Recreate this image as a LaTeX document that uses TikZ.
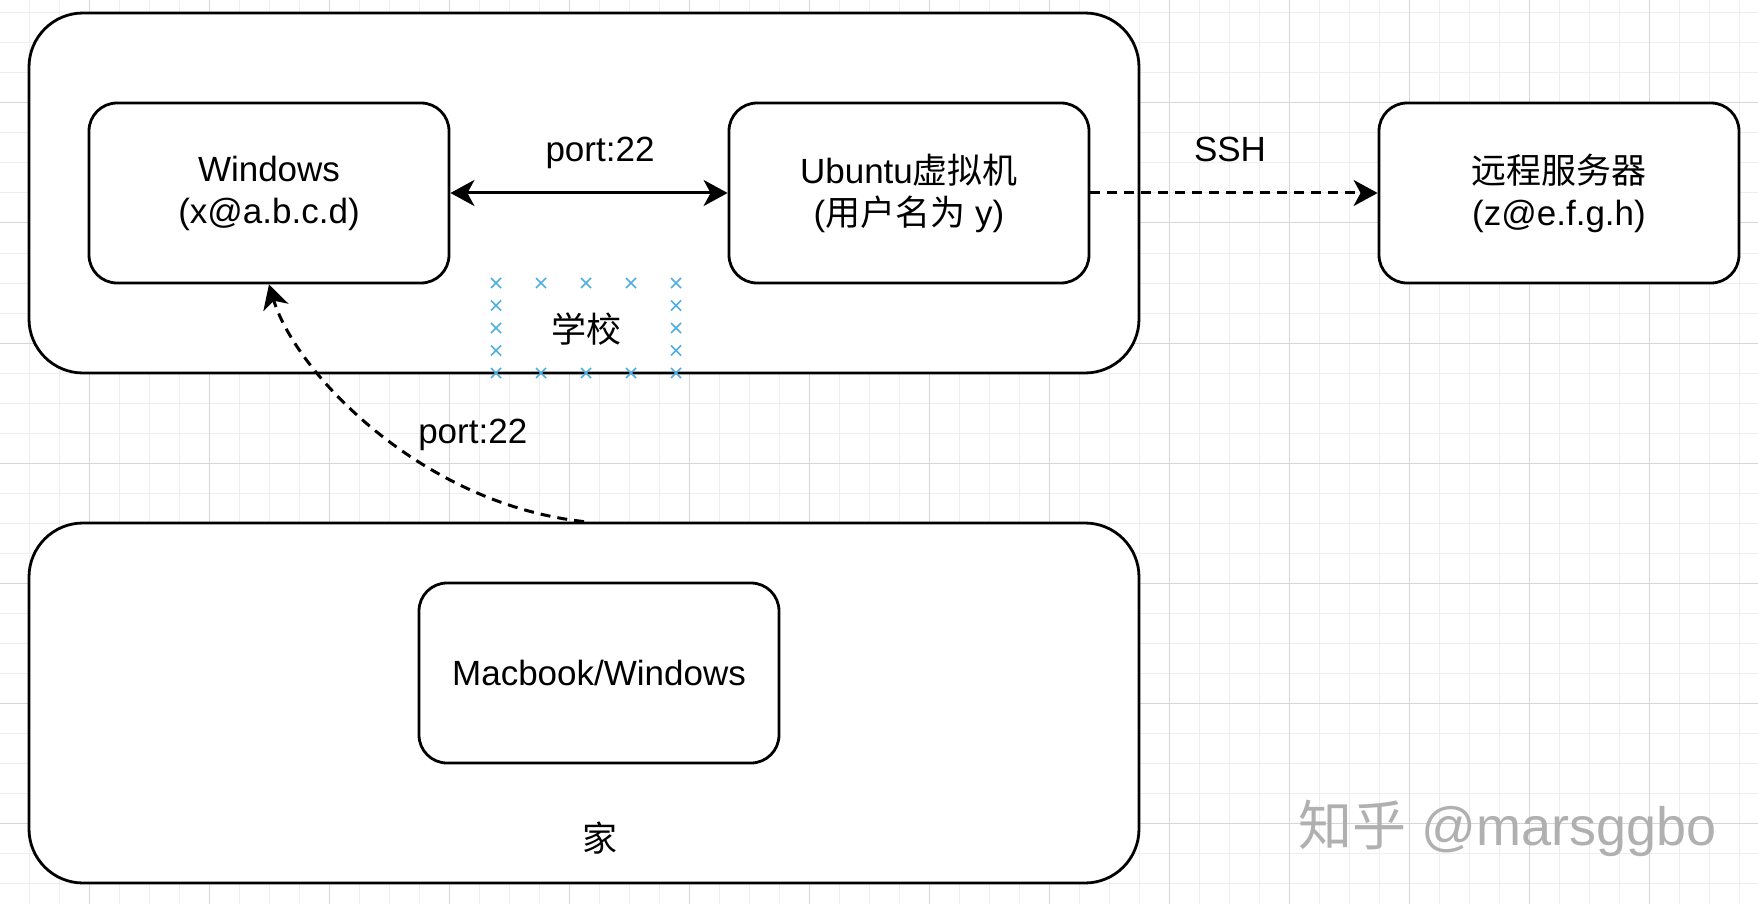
\documentclass[tikz,border=0pt]{standalone}
\usepackage{fontspec}
\setmainfont{Liberation Sans}
\newfontfamily\cjk{Noto Sans CJK SC}
\usepackage{xcolor}
\usetikzlibrary{
  arrows.meta,
  positioning,
  calc,
}
\definecolor{gridminor}{RGB}{238,238,238}
\definecolor{gridmajor}{RGB}{214,214,214}
\definecolor{crosscol}{RGB}{80,175,225}
\definecolor{markgray}{RGB}{176,176,176}
\tikzset{
  basefont/.style={font=\fontsize{17.5}{21}\selectfont},
  hostbox/.style={
    rectangle, draw, line width=1.4pt, fill=white, rounded corners=14pt,
    minimum width=180pt, minimum height=90pt, inner sep=0pt,
    align=center, basefont
  },
  sitebox/.style={hostbox, rounded corners=27pt, minimum width=555pt, minimum height=180pt},
  labeltext/.style={basefont, inner sep=0pt},
  minorline/.style={draw=gridminor, line width=0.5pt},
  majorline/.style={draw=gridmajor, line width=0.5pt},
  linkarrow/.style={line width=1.5pt, >={Stealth[length=12pt, width=13pt, inset=3.5pt]}},
  dasharrow/.style={linkarrow, dash pattern=on 5pt off 3.5pt},
  crossmark/.style={draw=crosscol, line width=0.8pt},
}

\begin{document}
\begin{tikzpicture}[x=0.5pt, y=-0.5pt]

  \useasboundingbox (0,0) rectangle (1758,904);
  \fill[white] (0,0) rectangle (1758,904);

  % ── Background grid ──
  \foreach \gx in {29,59,...,1758} \draw[minorline] (\gx,0) -- (\gx,904);
  \foreach \gy in {13,43,...,904} \draw[minorline] (0,\gy) -- (1758,\gy);
  \foreach \gx in {89,209,...,1758} \draw[majorline] (\gx,0) -- (\gx,904);
  \foreach \gy in {103,223,...,904} \draw[majorline] (0,\gy) -- (1758,\gy);

  % ── Sites ──
  \node[sitebox] (school) at (584,193) {};
  \node[sitebox] (home) at (584,703) {};

  % ── Hosts ──
  \node[hostbox] (win) at (269,193) {Windows\\(x@a.b.c.d)};
  \node[hostbox] (ubu) at (909,193) {Ubuntu{\cjk 虚拟机}\\({\cjk 用户名为} y)};
  \node[hostbox] (remote) at (1559,193) {{\cjk 远程服务器}\\(z@e.f.g.h)};
  \node[hostbox] (mac) at (599,673) {Macbook/Windows};

  % ── Links ──
  \draw[linkarrow, <->] (win.east) -- (ubu.west)
    node[labeltext, midway, xshift=5.5pt, yshift=20pt] (portA) {port:22};
  \draw[dasharrow, ->] (ubu.east) -- (remote.west)
    node[labeltext, midway, xshift=-2pt, yshift=21.75pt] (ssh) {SSH};
  \draw[dasharrow, ->] (home.north) .. controls +(-164,-18) and +(26,87) .. (win.south)
    node[labeltext, pos=0.5, xshift=49pt, yshift=-3pt] (portB) {port:22};

  % ── Site labels ──
  \node[labeltext] (schoollabel) at (586,329) {{\cjk 学校}};
  \node[labeltext] (homelabel) at (600,838) {{\cjk 家}};

  % ── Label handles ──
  \foreach \cx in {496,541,586,631,676}
    \foreach \cy in {283,373}
      \draw[crossmark] (\cx-5,\cy-5) -- (\cx+5,\cy+5) (\cx-5,\cy+5) -- (\cx+5,\cy-5);
  \foreach \cx in {496,676}
    \foreach \cy in {305.5,328,350.5}
      \draw[crossmark] (\cx-5,\cy-5) -- (\cx+5,\cy+5) (\cx-5,\cy+5) -- (\cx+5,\cy-5);

  % ── Watermark ──
  \node[font=\fontsize{27}{32}\selectfont, text=markgray, anchor=base west, inner sep=0pt]
    (mark) at (1298,845) {{\cjk 知乎} @marsggbo};

\end{tikzpicture}
\end{document}
